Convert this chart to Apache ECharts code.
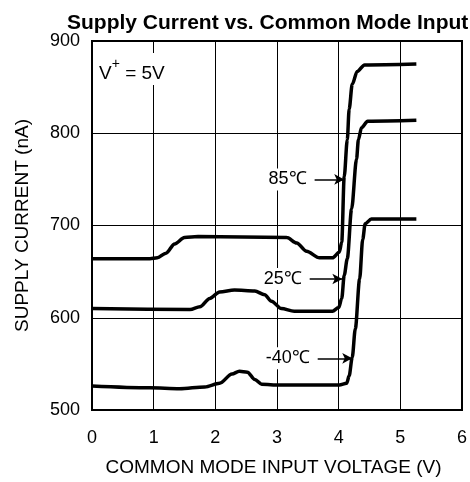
<!DOCTYPE html>
<html>
<head>
<meta charset="utf-8">
<script src="https://cdn.jsdelivr.net/npm/echarts@6/dist/echarts.min.js"></script>
<style>
html, body { margin: 0; padding: 0; background: #fff; }
#chart { width: 470px; height: 482px; }
</style>
</head>
<body>
<div id="chart"></div>
<script>
// curves: [voltage (V), supply current (nA)]
var curve85 = [
  [0, 664], [0.94, 664], [1.06, 665], [1.20, 670], [1.34, 680], [1.50, 687],
  [1.72, 688], [3.16, 687], [3.32, 681], [3.48, 672], [3.69, 665], [3.90, 665],
  [4.01, 671], [4.05, 682], [4.09, 753], [4.14, 793], [4.17, 826], [4.22, 853],
  [4.30, 867], [4.42, 874], [5.26, 875]
];
var curve25 = [
  [0, 610], [1.59, 609], [1.75, 612], [1.91, 621], [2.07, 628], [2.31, 630],
  [2.64, 629], [2.80, 625], [2.91, 618], [3.07, 610], [3.28, 607], [3.90, 607],
  [4.00, 611], [4.05, 621], [4.09, 646], [4.14, 664], [4.21, 718], [4.29, 772],
  [4.32, 793], [4.37, 806], [4.47, 813], [5.26, 814]
];
var curveM40 = [
  [0, 526], [0.94, 524], [1.42, 523], [1.83, 525], [2.07, 529], [2.27, 539],
  [2.39, 542], [2.52, 541], [2.64, 533], [2.75, 528], [3.04, 527], [4.01, 527],
  [4.13, 529], [4.17, 537], [4.22, 557], [4.27, 588], [4.34, 642], [4.39, 685],
  [4.43, 702], [4.53, 707], [5.26, 707]
];
// arrow callouts: label, start, end
var callouts = [
  { label: '85℃', from: [3.61, 750], to: [4.09, 750] },
  { label: '25℃', from: [3.53, 642], to: [4.06, 642] },
  { label: '-40℃', from: [3.66, 556], to: [4.22, 556] }
];
var xTicks = [0, 1, 2, 3, 4, 5, 6];

var chart = echarts.init(document.getElementById('chart'));
var font = 'Liberation Sans, Arial, sans-serif';

function curveSeries(name, data, callout) {
  return {
    name: name,
    type: 'line',
    data: data,
    showSymbol: false,
    smooth: 0.3,
    smoothMonotone: 'x',
    lineStyle: { color: '#000', width: 3.5 },
    silent: true,
    markLine: {
      silent: true,
      symbol: ['none', 'arrow'],
      symbolSize: [8, 10],
      lineStyle: { color: '#000', width: 1.5, type: 'solid' },
      label: {
        show: true,
        position: 'start',
        formatter: callout.label,
        color: '#000',
        fontFamily: font,
        fontSize: 18,
        distance: 6,
        backgroundColor: '#fff',
        padding: [2, 2]
      },
      data: [[{ coord: callout.from }, { coord: callout.to }]]
    }
  };
}

chart.setOption({
  animation: false,
  title: {
    text: 'Supply Current vs. Common Mode Input',
    left: 62,
    top: 8,
    textStyle: { fontFamily: font, fontWeight: 'bold', fontSize: 21, color: '#000' }
  },
  grid: {
    left: 92, right: 7, top: 41, bottom: 70,
    show: true, borderColor: '#000', borderWidth: 2
  },
  xAxis: {
    type: 'value',
    min: 0, max: 6, interval: 1,
    axisLine: { show: false },
    axisTick: { show: false },
    splitLine: { show: true, lineStyle: { color: '#000', width: 1 } },
    axisLabel: {
      color: '#000', fontFamily: font, fontSize: 18, margin: 19,
      formatter: function (v) { return xTicks.indexOf(v) >= 0 ? String(v) : ''; }
    },
    name: 'COMMON MODE INPUT VOLTAGE (V)',
    nameLocation: 'middle',
    nameGap: 48,
    nameTextStyle: { color: '#000', fontFamily: font, fontSize: 19, padding: [0, 7, 0, 0] }
  },
  yAxis: {
    type: 'value',
    min: 500, max: 900, interval: 100,
    axisLine: { show: false },
    axisTick: { show: false },
    splitLine: { show: true, lineStyle: { color: '#000', width: 1 } },
    axisLabel: { color: '#000', fontFamily: font, fontSize: 18, margin: 12 },
    name: 'SUPPLY CURRENT (nA)',
    nameLocation: 'middle',
    nameGap: 60,
    nameTextStyle: { color: '#000', fontFamily: font, fontSize: 19 }
  },
  graphic: [{
    type: 'text',
    left: 97,
    top: 53,
    z: 10,
    style: {
      text: '{v|V}{s|+}{v| = 5V}',
      backgroundColor: '#fff',
      padding: [2, 2],
      rich: {
        v: { fontFamily: font, fontSize: 19, fill: '#000', padding: [9, 0, 0, 0] },
        s: { fontFamily: font, fontSize: 14, fill: '#000', padding: [0, 0, 9, 0] }
      }
    }
  }],
  series: [
    curveSeries('85C', curve85, callouts[0]),
    curveSeries('25C', curve25, callouts[1]),
    curveSeries('-40C', curveM40, callouts[2])
  ]
});
</script>
</body>
</html>
